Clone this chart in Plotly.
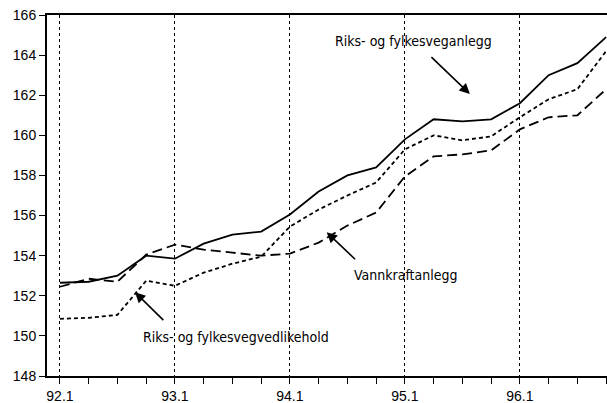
import plotly.graph_objects as go

quarters = ["92.1","92.2","92.3","92.4","93.1","93.2","93.3","93.4",
            "94.1","94.2","94.3","94.4","95.1","95.2","95.3","95.4",
            "96.1","96.2","96.3","96.4"]
veganlegg = [152.65, 152.7, 153.0, 154.0, 153.85, 154.6, 155.05, 155.2, 156.05, 157.2,
             158.0, 158.4, 159.8, 160.8, 160.7, 160.8, 161.6, 163.0, 163.6, 164.9]
vedlikehold = [150.85, 150.9, 151.05, 152.75, 152.5, 153.15, 153.6, 153.95, 155.45, 156.3,
               157.0, 157.65, 159.3, 160.0, 159.75, 159.95, 160.9, 161.8, 162.3, 164.2]
vannkraft = [152.45, 152.85, 152.7, 154.05, 154.55, 154.3, 154.15, 154.0, 154.1, 154.65,
             155.5, 156.15, 157.95, 158.95, 159.05, 159.25, 160.3, 160.9, 161.0, 162.3]
year_ticks = ["92.1", "93.1", "94.1", "95.1", "96.1"]
y_ticks = [148, 150, 152, 154, 156, 158, 160, 162, 164, 166]

xi = list(range(len(quarters)))
FONT = "Liberation Sans, Arial, Helvetica"
NARROW = "DejaVu Sans Condensed, Roboto Condensed, Liberation Sans Narrow, Liberation Sans"

fig = go.Figure()
fig.add_trace(go.Scatter(x=xi, y=veganlegg, mode="lines", name="Riks- og fylkesveganlegg",
                         line=dict(color="black", width=1.8, dash="solid")))
fig.add_trace(go.Scatter(x=xi, y=vedlikehold, mode="lines", name="Riks- og fylkesvegvedlikehold",
                         line=dict(color="black", width=1.8, dash="4px,3px")))
fig.add_trace(go.Scatter(x=xi, y=vannkraft, mode="lines", name="Vannkraftanlegg",
                         line=dict(color="black", width=1.8, dash="10px,5px")))

ann = []
def arrow(x0, y0, x1, y1):
    return dict(x=x1, y=y1, ax=x0, ay=y0, xref="x", yref="y", axref="x", ayref="y",
                showarrow=True, arrowhead=2, arrowsize=1.3, arrowwidth=1.6,
                arrowcolor="black", text="")
def label(x, y, t):
    return dict(x=x, y=y, xref="x", yref="y", text=t, showarrow=False,
                font=dict(family=NARROW, size=14, color="black"))

ann += [label(12.31, 164.7, "Riks- og fylkesveganlegg"), arrow(12.87, 163.97, 14.26, 162.06)]
ann += [label(12.03, 153.04, "Vannkraftanlegg"), arrow(10.32, 153.75, 9.28, 155.17)]
ann += [label(6.12, 149.95, "Riks- og fylkesvegvedlikehold"), arrow(3.65, 150.71, 2.61, 152.18)]

fig.update_layout(
    width=607, height=403,
    margin=dict(l=47, r=0, t=15, b=27),
    plot_bgcolor="white", paper_bgcolor="white",
    showlegend=False,
    font=dict(family=FONT, size=14, color="black"),
    annotations=ann,
)
fig.update_xaxes(
    range=[-0.45, 19.03],
    tickmode="array", tickvals=[quarters.index(q) for q in year_ticks], ticktext=year_ticks,
    ticks="outside", ticklen=6, tickwidth=1.2, tickcolor="black",
    showline=True, linecolor="black", linewidth=2, mirror=True,
    showgrid=True, gridcolor="black", gridwidth=1, griddash="dot",
    minor=dict(tickmode="array", tickvals=xi, ticks="outside", ticklen=6,
               tickwidth=1.2, tickcolor="black", showgrid=False),
    zeroline=False, automargin=False,
    tickfont=dict(family=FONT, size=14),
)
fig.update_yaxes(
    range=[148, 166],
    tickmode="array", tickvals=y_ticks,
    ticks="outside", ticklen=6, tickwidth=1.2, tickcolor="black",
    showline=True, linecolor="black", linewidth=2, mirror=False,
    showgrid=False, zeroline=False, automargin=False, tickfont=dict(family=FONT, size=14),
)

fig.write_html("out.html", config={"displayModeBar": False},
               post_script="document.body.style.margin='0';")
